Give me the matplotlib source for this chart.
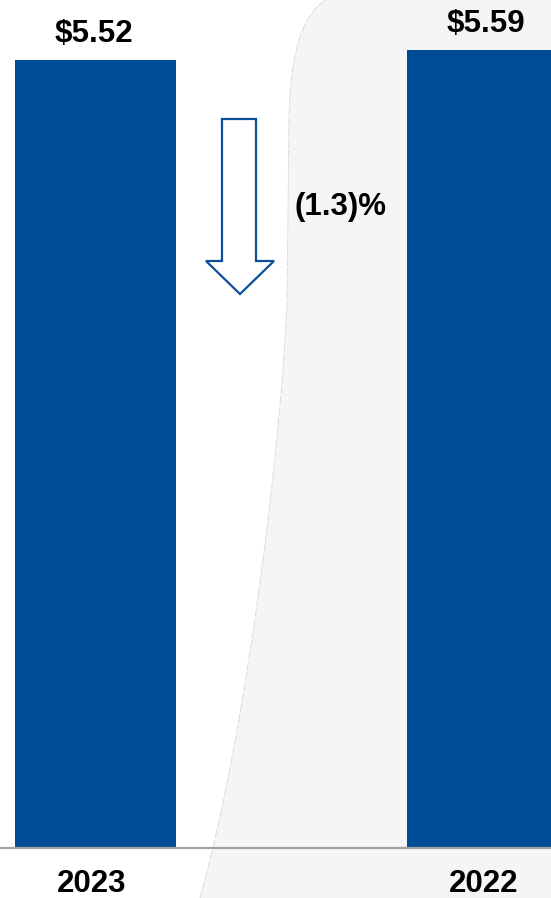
import numpy as np
import matplotlib.pyplot as plt
from matplotlib.path import Path
from matplotlib.patches import PathPatch, Polygon

plt.rcParams['font.family'] = ['Liberation Sans', 'DejaVu Sans']

years = ['2023', '2022']
values = [5.52, 5.59]
value_labels = ['$5.52', '$5.59']

BAR_COLOR = '#004c97'
W, H = 551, 898

fig = plt.figure(figsize=(W / 100, H / 100), dpi=100)
ax = fig.add_axes([0, 0, 1, 1])
ax.set_xlim(-0.2436, 1.162)
ax.set_ylim(-0.350, 5.940)
ax.axis('off')


def px(x, y):
    # pixel position (from top-left) -> axes fraction
    return (x / W, 1 - y / H)


# light grey panel behind the prior-year bar
verts = [px(326, 0), px(300, 15), px(290, 60), px(289, 120),
         px(287, 300),
         px(283, 420), px(250, 720), px(200, 898),
         px(W, 898), px(W, 0), px(326, 0)]
codes = [Path.MOVETO, Path.CURVE4, Path.CURVE4, Path.CURVE4,
         Path.LINETO,
         Path.CURVE4, Path.CURVE4, Path.CURVE4,
         Path.LINETO, Path.LINETO, Path.CLOSEPOLY]
ax.add_patch(PathPatch(Path(verts, codes), facecolor='#f5f5f5', edgecolor='none',
                       transform=ax.transAxes, zorder=0))
edge = Path(verts[:8], codes[:8])
ax.add_patch(PathPatch(edge, facecolor='none', edgecolor='#dcdcdc', lw=0.7,
                       linestyle=(0, (9, 2)), transform=ax.transAxes, zorder=1))

x = np.arange(len(years))
bars = ax.bar(x, values, width=0.41, color=BAR_COLOR, zorder=2)
ax.axhline(0, color='#a3a3a3', lw=1.6, zorder=3)

for xi, v, lab in zip(x, values, value_labels):
    ax.annotate(lab, (xi - 0.005, v), xytext=(0, 13), textcoords='offset points',
                ha='center', va='baseline', fontsize=22.5, fontweight='bold')

for xi, yr in zip(x, years):
    ax.annotate(yr, (xi - 0.01, 0), xytext=(0, -32), textcoords='offset points',
                ha='center', va='baseline', fontsize=22.5, fontweight='bold')

# hollow down arrow with percent change
shaft_l, shaft_r, head_l, head_r = 222, 256, 206, 274
top, neck, tip = 119, 261, 294
tip_x = (head_l + head_r) / 2
arrow = Polygon([px(shaft_l, top), px(shaft_r, top), px(shaft_r, neck),
                 px(head_r, neck), px(tip_x, tip), px(head_l, neck),
                 px(shaft_l, neck)], closed=True, facecolor='white',
                edgecolor='#0a4f9a', lw=1.6, transform=ax.transAxes, zorder=3)
ax.add_patch(arrow)

change = (values[0] - values[1]) / values[1] * 100
change_text = f'({abs(change):.1f})%' if change < 0 else f'{change:.1f}%'
ax.text(*px(341, 207), change_text, transform=ax.transAxes, ha='center',
        va='center', fontsize=22.5, fontweight='bold', zorder=4)

fig.savefig('out.png', dpi=100)
